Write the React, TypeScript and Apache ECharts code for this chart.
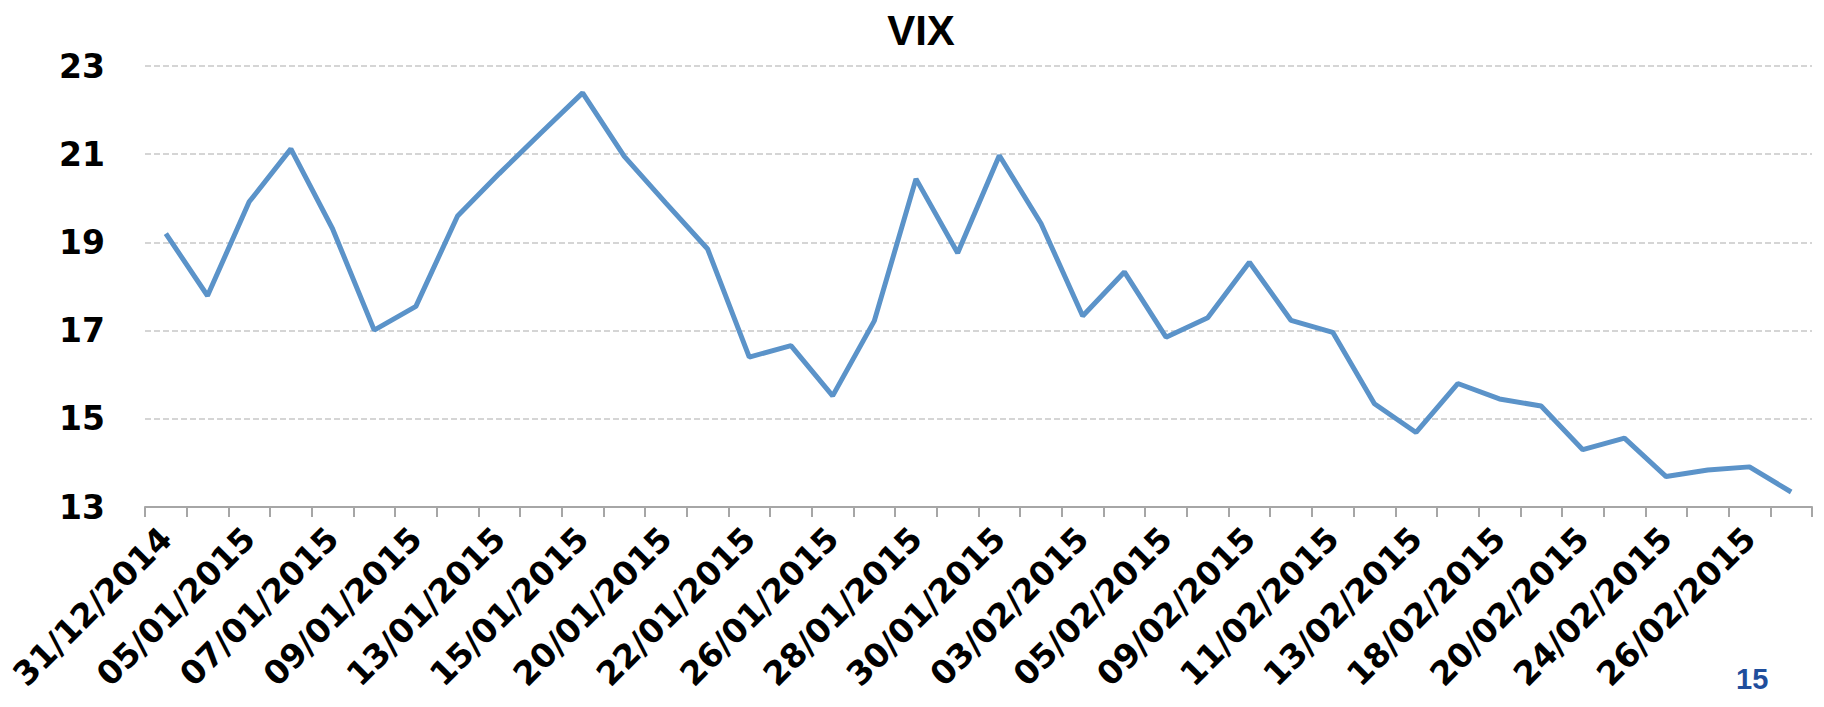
import React, { useEffect, useRef } from "react";
import * as echarts from "echarts";

const dates = [
  "31/12/2014", "02/01/2015", "05/01/2015", "06/01/2015", "07/01/2015", "08/01/2015",
  "09/01/2015", "12/01/2015", "13/01/2015", "14/01/2015", "15/01/2015", "16/01/2015",
  "20/01/2015", "21/01/2015", "22/01/2015", "23/01/2015", "26/01/2015", "27/01/2015",
  "28/01/2015", "29/01/2015", "30/01/2015", "02/02/2015", "03/02/2015", "04/02/2015",
  "05/02/2015", "06/02/2015", "09/02/2015", "10/02/2015", "11/02/2015", "12/02/2015",
  "13/02/2015", "17/02/2015", "18/02/2015", "19/02/2015", "20/02/2015", "23/02/2015",
  "24/02/2015", "25/02/2015", "26/02/2015", "27/02/2015",
];

const vix = [
  19.2, 17.79, 19.92, 21.12, 19.31, 17.01,
  17.55, 19.6, 20.56, 21.48, 22.39, 20.95,
  19.89, 18.85, 16.4, 16.66, 15.52, 17.22,
  20.44, 18.76, 20.97, 19.43, 17.33, 18.33,
  16.85, 17.29, 18.55, 17.23, 16.96, 15.34,
  14.69, 15.8, 15.45, 15.29, 14.3, 14.56,
  13.69, 13.84, 13.91, 13.34,
];

const titleText = "VIX";
const pageNumber = "15";

export default function App() {
  const ref = useRef<HTMLDivElement>(null);
  useEffect(() => {
    document.body.style.margin = "0";
    const chart = echarts.init(ref.current!, null, { renderer: "svg" });
    chart.setOption({
      animation: false,
      backgroundColor: "#ffffff",
      title: {
        text: titleText,
        left: 916,
        textAlign: "center",
        top: 4,
        textStyle: {
          fontFamily: "Liberation Sans",
          fontWeight: "bold",
          fontSize: 42,
          color: "#000000",
        },
      },
      graphic: [
        {
          type: "text",
          left: 1736,
          top: 664,
          style: {
            text: pageNumber,
            fontFamily: "Liberation Sans",
            fontWeight: "bold",
            fontSize: 29,
            fill: "#1f4e9c",
          },
        },
      ],
      grid: { left: 145, right: 12, top: 66, bottom: 200 },
      xAxis: {
        type: "category",
        data: dates,
        boundaryGap: true,
        axisLine: { lineStyle: { color: "#a6a6a6", width: 2 } },
        axisTick: { show: true, length: 10, interval: 0, lineStyle: { color: "#a6a6a6", width: 2 } },
        axisLabel: {
          interval: 1,
          rotate: 45,
          margin: 26,
          fontFamily: "DejaVu Sans",
          fontWeight: "bold",
          fontSize: 33,
          color: "#000000",
        },
        splitLine: { show: false },
      },
      yAxis: {
        type: "value",
        min: 13,
        max: 23,
        interval: 2,
        axisLine: { show: false },
        axisTick: { show: false },
        axisLabel: {
          margin: 40,
          fontFamily: "DejaVu Sans",
          fontWeight: "bold",
          fontSize: 33,
          color: "#000000",
        },
        splitLine: { lineStyle: { color: "#c8c8c8", type: [6, 3], width: 1.5 } },
      },
      series: [
        {
          type: "line",
          data: vix,
          symbol: "none",
          lineStyle: { color: "#5b93c9", width: 5 },
        },
      ],
    });
    return () => chart.dispose();
  }, []);
  return <div ref={ref} style={{ width: 1824, height: 707 }} />;
}
